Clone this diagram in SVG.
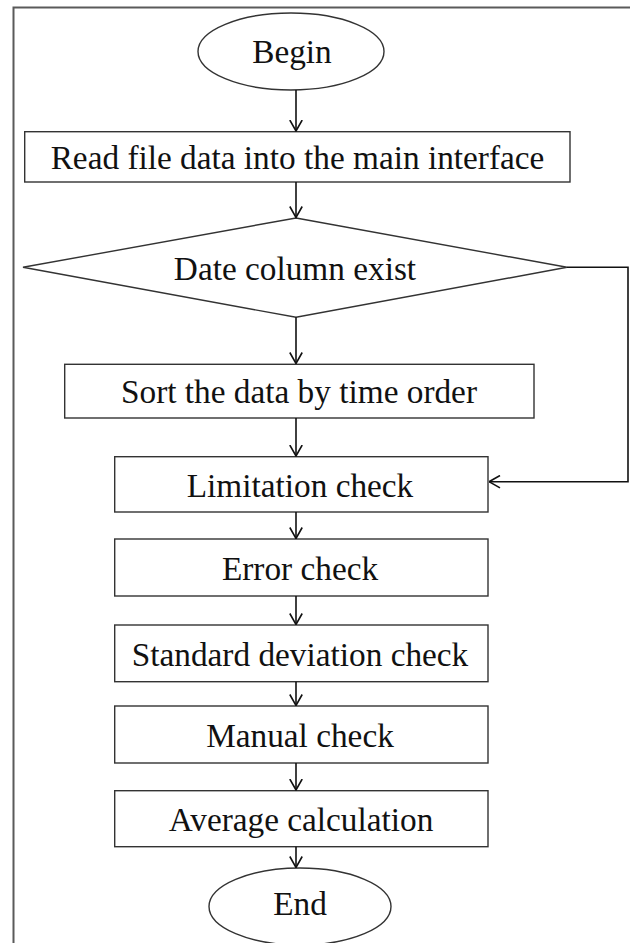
<svg xmlns="http://www.w3.org/2000/svg" width="630" height="943" viewBox="0 0 630 943">
  <style>
    .shape { fill: #ffffff; stroke: #333333; stroke-width: 1.4; }
    .lbl { font-family: "Liberation Serif", "Times New Roman", serif; font-size: 33.3px; fill: #111111; text-anchor: middle; }
    .conn { fill: none; stroke: #111111; stroke-width: 1.6; }
    .frame { fill: none; stroke: #5a5a5a; stroke-width: 2; }
  </style>
  <defs>
    <marker id="arr" viewBox="0 0 12 14" refX="11.5" refY="7" markerWidth="12" markerHeight="14" orient="auto" markerUnits="userSpaceOnUse">
      <path d="M0.5,0.8 L11.5,7 L0.5,13.2" fill="none" stroke="#111111" stroke-width="1.6"/>
    </marker>
  </defs>
  <rect width="630" height="943" fill="#ffffff"/>
  <path class="frame" d="M13.5,945 V7.5 H632"/>

  <g id="begin">
    <ellipse class="shape" cx="291" cy="51.5" rx="93" ry="38.5"/>
    <text class="lbl" x="292" y="63">Begin</text>
  </g>
  <g id="read">
    <rect class="shape" x="24.7" y="131.7" width="545.3" height="50.3"/>
    <text class="lbl" x="297.5" y="169">Read file data into the main interface</text>
  </g>
  <g id="date">
    <polygon class="shape" points="296,218 567,267.3 296,317.3 23,267.3"/>
    <text class="lbl" x="295" y="280">Date column exist</text>
  </g>
  <g id="sort">
    <rect class="shape" x="64.7" y="364.3" width="469.3" height="53.7"/>
    <text class="lbl" x="299" y="403">Sort the data by time order</text>
  </g>
  <g id="limitation">
    <rect class="shape" x="114.7" y="456.7" width="373.3" height="55.3"/>
    <text class="lbl" x="300" y="497">Limitation check</text>
  </g>
  <g id="error">
    <rect class="shape" x="114.7" y="539" width="373.3" height="57"/>
    <text class="lbl" x="300" y="580">Error check</text>
  </g>
  <g id="stddev">
    <rect class="shape" x="114.7" y="625" width="373.3" height="56.7"/>
    <text class="lbl" x="300" y="666">Standard deviation  check</text>
  </g>
  <g id="manual">
    <rect class="shape" x="114.7" y="706" width="373.3" height="57"/>
    <text class="lbl" x="300" y="747">Manual check</text>
  </g>
  <g id="average">
    <rect class="shape" x="114.7" y="790.7" width="373.3" height="56"/>
    <text class="lbl" x="301" y="831">Average calculation</text>
  </g>
  <g id="end">
    <ellipse class="shape" cx="300" cy="906.5" rx="91" ry="38.5"/>
    <text class="lbl" x="300" y="915">End</text>
  </g>

  <g id="connectors">
    <line class="conn" x1="296" y1="90" x2="296" y2="131" marker-end="url(#arr)"/>
    <line class="conn" x1="296" y1="182" x2="296" y2="217.5" marker-end="url(#arr)"/>
    <line class="conn" x1="296" y1="317.3" x2="296" y2="363.5" marker-end="url(#arr)"/>
    <line class="conn" x1="296" y1="418" x2="296" y2="456" marker-end="url(#arr)"/>
    <line class="conn" x1="296" y1="512" x2="296" y2="538.5" marker-end="url(#arr)"/>
    <line class="conn" x1="296" y1="596" x2="296" y2="624.5" marker-end="url(#arr)"/>
    <line class="conn" x1="296" y1="681.7" x2="296" y2="705.5" marker-end="url(#arr)"/>
    <line class="conn" x1="296" y1="763" x2="296" y2="790" marker-end="url(#arr)"/>
    <line class="conn" x1="296" y1="846.7" x2="296" y2="867.5" marker-end="url(#arr)"/>
    <path class="conn" d="M567,267.3 H628 V481.7 H489" marker-end="url(#arr)"/>
  </g>
</svg>
